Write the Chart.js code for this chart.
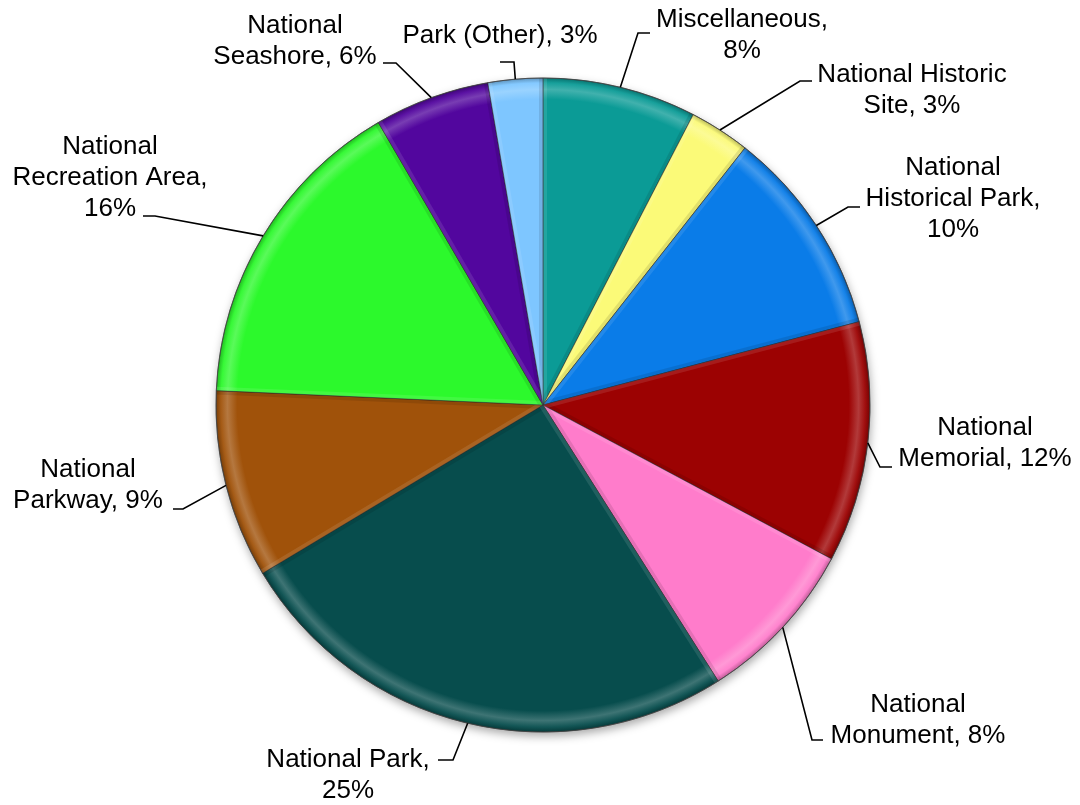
<!DOCTYPE html>
<html>
<head>
<meta charset="utf-8">
<script src="https://cdn.jsdelivr.net/npm/chart.js@4"></script>
<style>
  html, body { margin: 0; padding: 0; background: #ffffff; }
  #wrap { width: 1080px; height: 805px; position: relative; }
</style>
</head>
<body>
<div id="wrap"><canvas id="c" width="1080" height="805"></canvas></div>
<script>
// ---- data ----
const categories = [
  'Miscellaneous', 'National Historic Site', 'National Historical Park',
  'National Memorial', 'National Monument', 'National Park',
  'National Parkway', 'National Recreation Area', 'National Seashore', 'Park (Other)'
];
const shares = [7.6, 3.0, 10.3, 11.9, 8.2, 25.4, 9.3, 15.9, 5.7, 2.7];
const sliceColors = [
  '#0b9b96', '#fbfa78', '#0a7ce8', '#9c0202', '#ff7ccb',
  '#074d4d', '#a0520a', '#2cf92c', '#52069e', '#7ec6ff'
];
// label line templates ({n} = category name parts, {p} = rounded percent)
const labelLines = [
  ['Miscellaneous,', '{p}%'],
  ['National Historic', 'Site, {p}%'],
  ['National', 'Historical Park,', '{p}%'],
  ['National', 'Memorial, {p}%'],
  ['National', 'Monument, {p}%'],
  ['National Park,', '{p}%'],
  ['National', 'Parkway, {p}%'],
  ['National', 'Recreation Area,', '{p}%'],
  ['National', 'Seashore, {p}%'],
  ['Park (Other), {p}%']
];

// ---- layout (positions of label text and leader elbows) ----
const labelLayout = [
  { x: 742, y: 27,  ex: 638, ey: 33,  hx: 650 },
  { x: 912, y: 82,  ex: 800, ey: 81,  hx: 812 },
  { x: 953, y: 175, ex: 848, ey: 207, hx: 860 },
  { x: 985, y: 435, ex: 880, ey: 467, hx: 892 },
  { x: 918, y: 712, ex: 812, ey: 740, hx: 823 },
  { x: 348, y: 767, ex: 453, ey: 760, hx: 438 },
  { x: 88,  y: 477, ex: 183, ey: 509, hx: 173 },
  { x: 110, y: 154, ex: 155, ey: 216, hx: 143 },
  { x: 295, y: 33,  ex: 396, ey: 63,  hx: 383 },
  { x: 500, y: 43,  ex: 514, ey: 62,  hx: 500 }
];
const PIE_R = 327;
const LINE_H = 31;
const FONT = '26px "Liberation Sans", Arial, sans-serif';

function shade(hex, amt) {
  const n = parseInt(hex.slice(1), 16);
  let r = (n >> 16) & 255, g = (n >> 8) & 255, b = n & 255;
  if (amt >= 0) {
    r = r + (255 - r) * amt; g = g + (255 - g) * amt; b = b + (255 - b) * amt;
  } else {
    r = r * (1 + amt); g = g * (1 + amt); b = b * (1 + amt);
  }
  return 'rgb(' + Math.round(r) + ',' + Math.round(g) + ',' + Math.round(b) + ')';
}

const shadowPlugin = {
  id: 'pieShadow',
  beforeDatasetsDraw(chart) {
    const meta = chart.getDatasetMeta(0);
    if (!meta.data.length) return;
    const arc = meta.data[0];
    const ctx = chart.ctx;
    ctx.save();
    ctx.shadowColor = 'rgba(0,0,0,0.35)';
    ctx.shadowBlur = 10;
    ctx.shadowOffsetX = 1;
    ctx.shadowOffsetY = 4;
    ctx.fillStyle = '#888';
    ctx.beginPath();
    ctx.arc(arc.x, arc.y, arc.outerRadius, 0, Math.PI * 2);
    ctx.fill();
    ctx.restore();
  }
};

const bevelPlugin = {
  id: 'bevel',
  afterDatasetsDraw(chart) {
    const meta = chart.getDatasetMeta(0);
    const ctx = chart.ctx;
    ctx.save();
    meta.data.forEach((arc) => {
      // inner bevel along the radial edges
      const r = arc.outerRadius;
      ctx.save();
      ctx.beginPath();
      ctx.moveTo(arc.x, arc.y);
      ctx.arc(arc.x, arc.y, r, arc.startAngle, arc.endAngle);
      ctx.closePath();
      ctx.clip();
      ctx.lineWidth = 8;
      ctx.strokeStyle = 'rgba(0,0,0,0.10)';
      ctx.beginPath();
      ctx.moveTo(arc.x, arc.y);
      ctx.lineTo(arc.x + r * Math.cos(arc.endAngle), arc.y + r * Math.sin(arc.endAngle));
      ctx.stroke();
      ctx.strokeStyle = 'rgba(255,255,255,0.10)';
      ctx.beginPath();
      ctx.moveTo(arc.x, arc.y);
      ctx.lineTo(arc.x + r * Math.cos(arc.startAngle), arc.y + r * Math.sin(arc.startAngle));
      ctx.stroke();
      ctx.restore();
    });
    const a0 = meta.data[0];
    ctx.lineWidth = 1;
    ctx.strokeStyle = 'rgba(70,70,70,0.7)';
    ctx.beginPath();
    ctx.arc(a0.x, a0.y, a0.outerRadius, 0, Math.PI * 2);
    ctx.stroke();
    ctx.restore();
  }
};

const labelPlugin = {
  id: 'outLabels',
  afterDraw(chart) {
    const meta = chart.getDatasetMeta(0);
    const ctx = chart.ctx;
    const total = shares.reduce((s, v) => s + v, 0);
    ctx.save();
    ctx.font = FONT;
    ctx.fillStyle = '#000';
    ctx.textAlign = 'center';
    ctx.textBaseline = 'alphabetic';
    meta.data.forEach((arc, i) => {
      const L = labelLayout[i];
      const pct = Math.round(shares[i] / total * 100);
      const mid = (arc.startAngle + arc.endAngle) / 2;
      const sx = arc.x + arc.outerRadius * Math.cos(mid);
      const sy = arc.y + arc.outerRadius * Math.sin(mid);
      ctx.strokeStyle = '#000';
      ctx.lineWidth = 1.6;
      ctx.beginPath();
      ctx.moveTo(sx, sy);
      ctx.lineTo(L.ex, L.ey);
      ctx.lineTo(L.hx, L.ey);
      ctx.stroke();
      labelLines[i].forEach((t, k) => {
        ctx.fillText(t.replace('{p}', pct), L.x, L.y + k * LINE_H);
      });
    });
    ctx.restore();
  }
};

new Chart(document.getElementById('c'), {
  type: 'pie',
  data: {
    labels: categories,
    datasets: [{
      data: shares,
      backgroundColor: (ctx) => {
        const base = sliceColors[ctx.dataIndex];
        const chart = ctx.chart;
        const a = chart.chartArea;
        if (!a) return base;
        const cx = (a.left + a.right) / 2, cy = (a.top + a.bottom) / 2;
        const g = chart.ctx.createRadialGradient(cx, cy, 0, cx, cy, PIE_R);
        g.addColorStop(0, base);
        g.addColorStop(0.935, base);
        g.addColorStop(0.965, shade(base, 0.22));
        g.addColorStop(0.985, shade(base, 0.05));
        g.addColorStop(1, shade(base, -0.25));
        return g;
      },
      borderColor: 'rgba(40,40,40,0.55)',
      borderWidth: 1,
      hoverOffset: 0
    }]
  },
  options: {
    responsive: true,
    maintainAspectRatio: false,
    animation: false,
    devicePixelRatio: 1,
    radius: PIE_R,
    layout: { padding: { left: 216, right: 210, top: 78, bottom: 73 } },
    plugins: {
      legend: { display: false },
      tooltip: { enabled: false }
    }
  },
  plugins: [shadowPlugin, bevelPlugin, labelPlugin]
});
</script>
</body>
</html>
